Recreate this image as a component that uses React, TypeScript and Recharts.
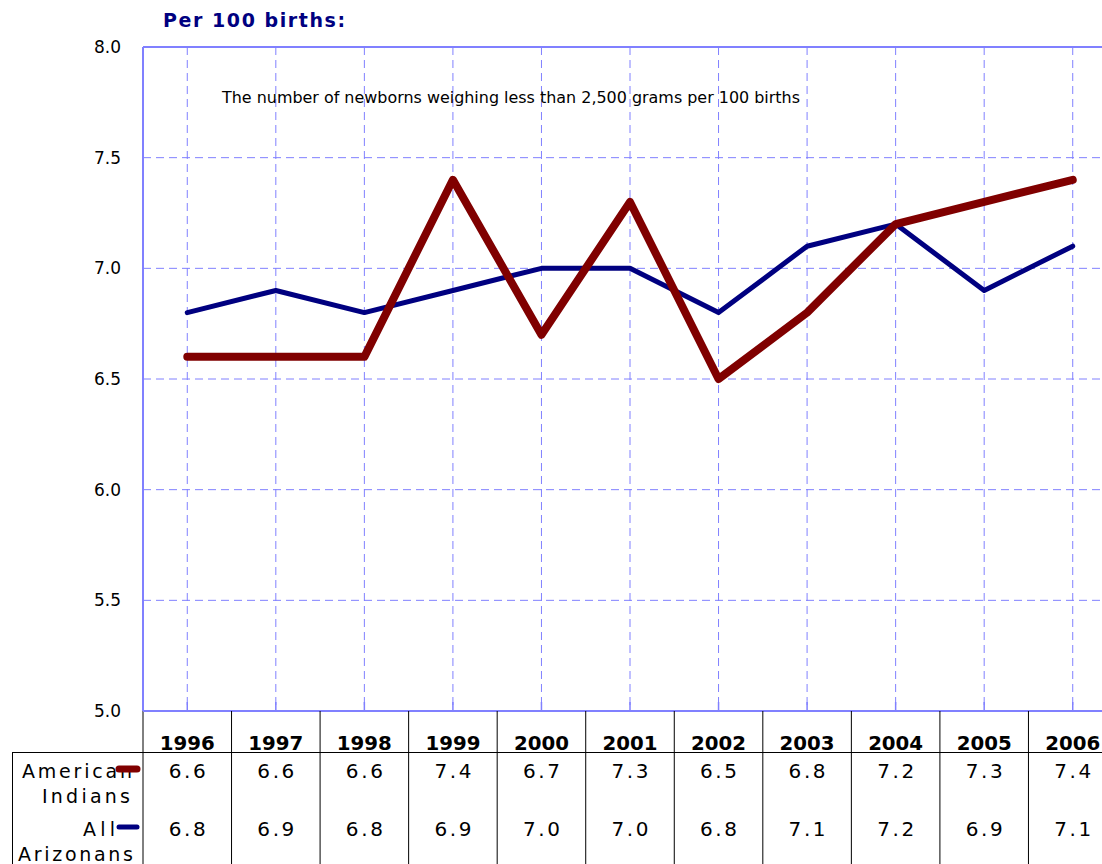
import React from 'react';
import { LineChart, Line, XAxis, YAxis, CartesianGrid, ReferenceLine, Customized } from 'recharts';

const years = ['1996', '1997', '1998', '1999', '2000', '2001', '2002', '2003', '2004', '2005', '2006'];
const americanIndians = [6.6, 6.6, 6.6, 7.4, 6.7, 7.3, 6.5, 6.8, 7.2, 7.3, 7.4];
const allArizonans = [6.8, 6.9, 6.8, 6.9, 7.0, 7.0, 6.8, 7.1, 7.2, 6.9, 7.1];
const yTicks = [5.0, 5.5, 6.0, 6.5, 7.0, 7.5, 8.0];

const data = years.map((year, i) => ({
  year,
  indians: americanIndians[i],
  arizonans: allArizonans[i],
}));

const W = 1130;
const H = 864;
const PLOT_LEFT = 143;
const PLOT_TOP = 47;
const PLOT_BOTTOM = 711;
const PLOT_RIGHT = 1117;
const BAND = (PLOT_RIGHT - PLOT_LEFT) / years.length;
const FONT = '"DejaVu Sans", Verdana, sans-serif';
const GRID = '#8080FF';
const MAROON = '#800000';
const NAVY = '#000080';

// one table column per year: tick mark, year, both values and the left border
const TableTick = (props: any) => {
  const { x, y, payload, index } = props;
  const left = x - BAND / 2;
  return (
    <g>
      <line x1={x} x2={x} y1={y} y2={y - 9} stroke={GRID} strokeWidth={1.5} />
      {index > 0 && <line x1={left} x2={left} y1={y} y2={H} stroke="#000" strokeWidth={1} />}
      <text x={x} y={y + 39} textAnchor="middle" fontFamily={FONT} fontWeight="bold" fontSize={20} fill="#000" textLength={55} lengthAdjust="spacingAndGlyphs">
        {payload.value}
      </text>
      <text x={x} y={y + 67} textAnchor="middle" fontFamily={FONT} fontSize={20} fill="#000" textLength={37} lengthAdjust="spacing">
        {americanIndians[index].toFixed(1)}
      </text>
      <text x={x} y={y + 125} textAnchor="middle" fontFamily={FONT} fontSize={20} fill="#000" textLength={37} lengthAdjust="spacing">
        {allArizonans[index].toFixed(1)}
      </text>
    </g>
  );
};

const Extras = () => (
  <g>
    <text x={163} y={27} fontFamily={FONT} fontWeight="bold" fontSize={19} fill={NAVY} textLength={182} lengthAdjust="spacing">
      Per 100 births:
    </text>
    <text x={222} y={103} fontFamily={FONT} fontSize={15} fill="#000" textLength={578} lengthAdjust="spacingAndGlyphs">
      The number of newborns weighing less than 2,500 grams per 100 births
    </text>
    <line x1={PLOT_LEFT} x2={PLOT_LEFT} y1={PLOT_BOTTOM} y2={H} stroke="#000" strokeWidth={1} />
    <line x1={12} x2={W} y1={752.5} y2={752.5} stroke="#000" strokeWidth={1} />
    <line x1={12.5} x2={12.5} y1={752} y2={H} stroke="#000" strokeWidth={1} />
    <text x={22} y={778} fontFamily={FONT} fontSize={19} fill="#000" textLength={110} lengthAdjust="spacing">American</text>
    <text x={42} y={803} fontFamily={FONT} fontSize={19} fill="#000" textLength={88} lengthAdjust="spacing">Indians</text>
    <text x={83} y={836} fontFamily={FONT} fontSize={19} fill="#000" textLength={32} lengthAdjust="spacing">All</text>
    <text x={18} y={861} fontFamily={FONT} fontSize={19} fill="#000" textLength={115} lengthAdjust="spacing">Arizonans</text>
    <line x1={119} x2={137} y1={769} y2={769} stroke={MAROON} strokeWidth={7} strokeLinecap="round" />
    <line x1={119} x2={137} y1={827} y2={827} stroke={NAVY} strokeWidth={5} strokeLinecap="round" />
  </g>
);

export default function App() {
  return (
    <div style={{ position: 'fixed', left: 0, top: 0, width: 1102, height: 864, overflow: 'hidden', background: '#fff' }}>
      <LineChart
        width={W}
        height={H}
        data={data}
        margin={{ top: PLOT_TOP, left: PLOT_LEFT - 60, right: W - PLOT_RIGHT, bottom: H - PLOT_BOTTOM - 30 }}
      >
        <CartesianGrid stroke={GRID} strokeDasharray="8 5" strokeWidth={1} />
        <XAxis
          dataKey="year"
          height={30}
          padding={{ left: BAND / 2, right: BAND / 2 }}
          axisLine={{ stroke: GRID, strokeWidth: 2 }}
          tickLine={false}
          tickSize={0}
          tickMargin={0}
          interval={0}
          tick={<TableTick />}
        />
        <YAxis
          width={60}
          domain={[5, 8]}
          ticks={yTicks}
          tickFormatter={(v: number) => v.toFixed(1)}
          axisLine={{ stroke: GRID, strokeWidth: 2 }}
          tickLine={false}
          tickMargin={16}
          tick={{ fill: '#000', fontSize: 17, fontFamily: FONT }}
        />
        <ReferenceLine y={8} stroke={GRID} strokeWidth={2} />
        <Line
          type="linear"
          dataKey="arizonans"
          stroke={NAVY}
          strokeWidth={5}
          dot={false}
          strokeLinecap="round"
          strokeLinejoin="round"
          isAnimationActive={false}
        />
        <Line
          type="linear"
          dataKey="indians"
          stroke={MAROON}
          strokeWidth={8}
          dot={false}
          strokeLinecap="round"
          strokeLinejoin="round"
          isAnimationActive={false}
        />
        <Customized component={<Extras />} />
      </LineChart>
    </div>
  );
}
